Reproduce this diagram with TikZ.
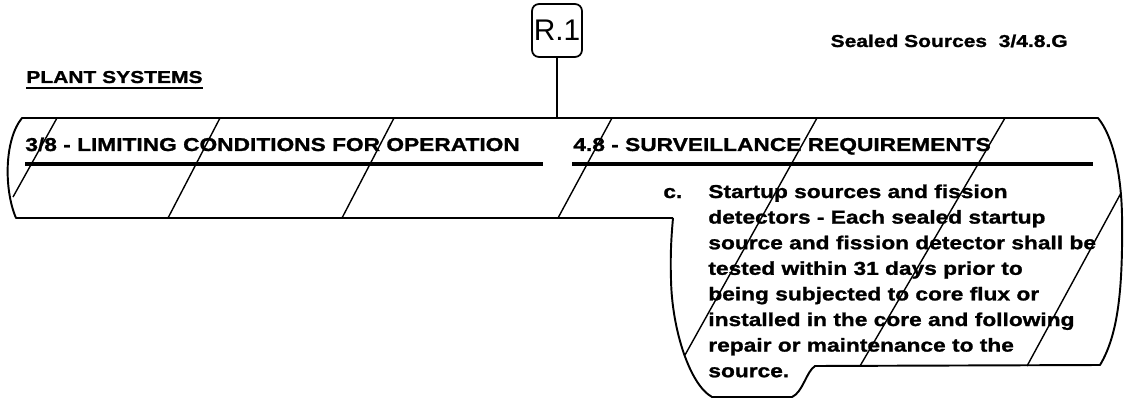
\documentclass[tikz,border=0pt]{standalone}
\usepackage{fontspec}
\usetikzlibrary{positioning}
\newfontfamily\specfont[FakeStretch=1.22, BoldFeatures={FakeBold=1.2}]{Liberation Sans}
\newfontfamily\handfont{Liberation Sans}
\tikzset{
  outline/.style={line width=1.1pt, line join=round},
  hatch/.style={line width=0.8pt},
  headrule/.style={line width=2.8pt},
  heading/.style={font={\specfont\bfseries\fontsize{10.6}{12}\selectfont}, anchor=base west, inner sep=0pt},
  pagehead/.style={font={\specfont\bfseries\fontsize{9.8}{11}\selectfont}, inner sep=0pt},
  revbox/.style={draw, line width=1pt, rounded corners=4pt, minimum width=1cm, minimum height=1.06cm,
    inner sep=0pt, font={\handfont\fontsize{17}{17}\selectfont}},
}

\begin{document}
\begin{tikzpicture}[x=0.02cm, y=-0.02cm]
\useasboundingbox (0,0) rectangle (1125,402);
% page header
\node[pagehead, anchor=base west] (sys) at (26,83) {PLANT SYSTEMS};
\draw[line width=1.3pt] ([yshift=-3pt]sys.base west) -- ([yshift=-3pt]sys.base east);
\node[pagehead, anchor=base east] (sec) at (1068,47) {Sealed Sources\ \ 3/4.8.G};
% revision tag
\node[revbox] (rev) at (557,30.5) {R.1};
\coordinate (tap) at (557,118);
\draw[outline] (rev.south) -- (tap);
% outline of the changed area
\draw[outline] (673,218) -- (16,218) .. controls (4,190) and (4,140) .. (22,118)
  -- (1098,118) .. controls (1112,135) and (1121,170) .. (1122,215)
  .. controls (1123,290) and (1118,335) .. (1100,365) -- (815,366)
  .. controls (806,372) and (803,392) .. (792,397) -- (712,397)
  .. controls (690,385) and (672,330) .. (671,280)
  .. controls (670,250) and (672,230) .. (673,218);
% section headings
\node[heading] (lco) at (25,151) {3/8 - LIMITING CONDITIONS FOR OPERATION};
\node[heading] (sr) at (573,151) {4.8 - SURVEILLANCE REQUIREMENTS};
\draw[headrule] (25,164) -- (543,164);
\draw[headrule] (572,164) -- (1093,164);
% item c
\node[heading] (item) at (663,198) {c.};
\foreach \txt [count=\i] in {
  Startup sources and fission,
  detectors - Each sealed startup,
  source and fission detector shall be,
  tested within 31 days prior to,
  being subjected to core flux or,
  installed in the core and following,
  repair or maintenance to the,
  source.
} {
  \node[heading] (line\i) at (708,{198+25.6*(\i-1)}) {\txt};
}
% hatch strokes
\foreach \xa/\ya/\xb/\yb in {57/118/13/197, 220/118/168/218, 394/118/342/218,
  612/118/558/218, 817/118/685/355, 1005/118/860/366, 1121/193/1027/366} {
  \draw[hatch] (\xa,\ya) -- (\xb,\yb);
}
\end{tikzpicture}
\end{document}
